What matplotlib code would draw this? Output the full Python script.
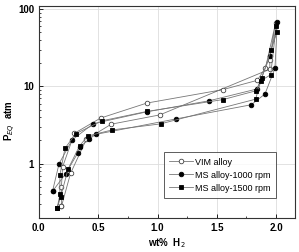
import matplotlib
matplotlib.use("Agg")
import matplotlib.pyplot as plt
from matplotlib.ticker import MultipleLocator, LogLocator, NullFormatter, FixedLocator
import numpy as np

plt.rcParams['font.family'] = ['Liberation Sans', 'DejaVu Sans']

# VIM alloy: absorption then desorption
vim_x = [0.19, 0.19, 0.20, 0.30, 0.52, 0.91, 1.55, 1.84, 1.91, 1.995,
         1.945, 1.948, 1.02, 0.61, 0.40, 0.267, 0.19]
vim_p = [0.28, 0.50, 0.91, 2.48, 3.9, 6.1, 9.1, 12.0, 17.3, 66.0,
         22.2, 16.8, 4.29, 3.25, 2.07, 0.75, 0.28]

# MS alloy-1000 rpm
ms1000_x = [0.115, 0.17, 0.28, 0.458, 0.91, 1.433, 1.84, 1.95, 2.01,
            1.99, 1.906, 1.79, 1.155, 0.48, 0.42, 0.35, 0.326, 0.225, 0.115]
ms1000_p = [0.44, 1.0, 2.03, 3.3, 4.7, 6.52, 9.3, 25.0, 67.7,
            17.2, 8.0, 5.8, 3.8, 2.4, 2.07, 1.66, 1.36, 0.74, 0.44]

# MS alloy-1500 rpm
ms1500_x = [0.155, 0.177, 0.177, 0.22, 0.31, 0.534, 0.91, 1.554, 1.83, 1.878,
            1.956, 2.004, 2.0, 1.954, 1.872, 1.827, 1.026, 0.618, 0.413, 0.343,
            0.247, 0.183, 0.155]
ms1500_p = [0.27, 0.40, 0.71, 1.58, 2.45, 3.6, 4.75, 6.78, 8.8, 12.8,
            29.4, 50.0, 60.0, 14.2, 11.9, 6.85, 3.28, 2.74, 2.29, 1.70,
            0.86, 0.37, 0.27]

fig = plt.figure(figsize=(2.99, 2.52), dpi=100)
ax = fig.add_axes([0.130, 0.136, 0.857, 0.840])

line_kw = dict(color="#777777", lw=0.6, ms=3.3, mew=0.6)
ax.plot(vim_x, vim_p, marker="o", mfc="white", mec="#444444", label="VIM alloy", **line_kw)
ax.plot(ms1000_x, ms1000_p, marker="o", mfc="black", mec="black", label="MS alloy-1000 rpm", **line_kw)
ax.plot(ms1500_x, ms1500_p, marker="s", mfc="black", mec="black", label="MS alloy-1500 rpm", **line_kw)

ax.set_yscale("log")
ax.set_xlim(0.0, 2.16)
ax.set_ylim(0.2, 110)
ax.xaxis.set_major_locator(MultipleLocator(0.5))
ax.xaxis.set_minor_locator(MultipleLocator(0.25))
ax.yaxis.set_major_locator(FixedLocator([1, 10, 100]))
ax.yaxis.set_minor_locator(LogLocator(base=10, subs=np.arange(2, 10)))
ax.yaxis.set_minor_formatter(NullFormatter())
ax.set_yticklabels(["1", "10", "100"])
ax.set_xticklabels([f"{v:.1f}" for v in ax.get_xticks()])

ax.tick_params(which="both", direction="in", labelsize=7)
ax.tick_params(which="major", length=3, width=0.6)
ax.tick_params(which="minor", length=1.5, width=0.5)
for lab in ax.get_xticklabels() + ax.get_yticklabels():
    lab.set_fontweight("bold")
for s in ax.spines.values():
    s.set_linewidth(0.8)
    s.set_color("#333333")

ax.grid(True, which="major", color="#dddddd", lw=0.6, zorder=0)

ax.set_xlabel("wt%  H$_2$", fontsize=7, fontweight="bold", va="center")
ax.xaxis.set_label_coords(0.5, -0.12)
ax.set_ylabel("P$_{EQ}$  atm", fontsize=7, fontweight="bold", va="center")
ax.yaxis.set_label_coords(-0.11, 0.46)

leg = ax.legend(loc="lower right", bbox_to_anchor=(0.926, 0.093), fontsize=6.5,
                frameon=True, fancybox=False, edgecolor="#333333",
                handlelength=2.6, borderpad=0.6, labelspacing=0.45, handletextpad=0.3,
                borderaxespad=0)
leg.get_frame().set_linewidth(0.7)

fig.savefig("out.png", dpi=100)
